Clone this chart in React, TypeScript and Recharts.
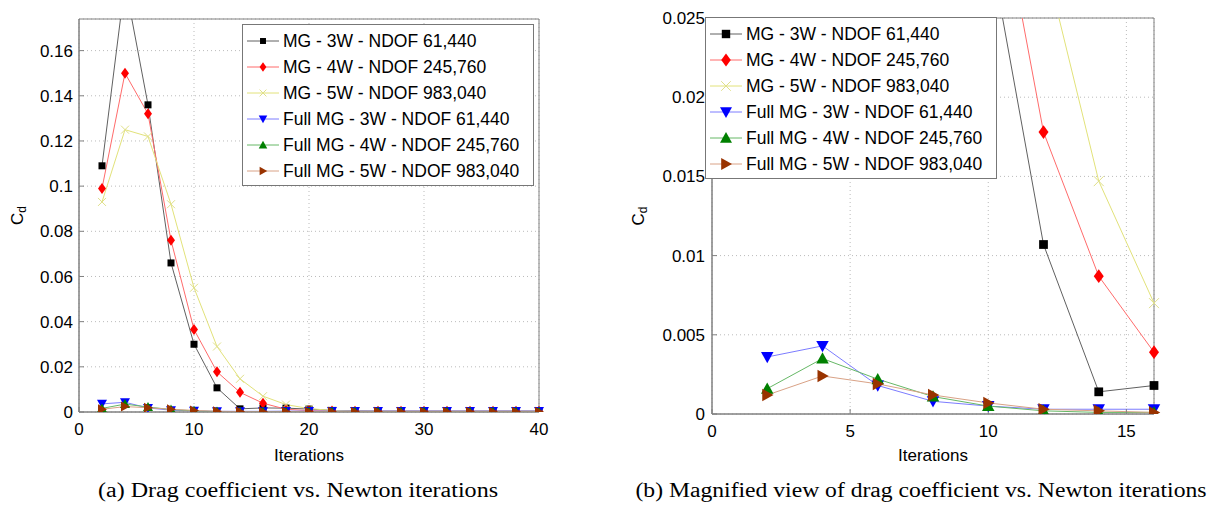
import React from 'react'
import {
  LineChart,
  Line,
  XAxis,
  YAxis,
  CartesianGrid,
  Legend,
  ReferenceArea,
} from 'recharts'

// Newton iterations (x) and drag coefficient per series
const iterations = [2, 4, 6, 8, 10, 12, 14, 16, 18, 20, 22, 24, 26, 28, 30, 32, 34, 36, 38, 40]
const mg3w = [0.109, 0.19, 0.136, 0.066, 0.03, 0.0107, 0.0014, 0.0018, 0.0017, 0.0013, 0.0007, 0.0005, 0.0004, 0.0004, 0.0004, 0.0004, 0.0004, 0.0004, 0.0004, 0.0004]
const mg4w = [0.099, 0.15, 0.132, 0.076, 0.0365, 0.0178, 0.0087, 0.0039, 0.0012, 0.0006, 0.0004, 0.0003, 0.0003, 0.0003, 0.0003, 0.0003, 0.0003, 0.0003, 0.0003, 0.0003]
const mg5w = [0.093, 0.125, 0.122, 0.092, 0.055, 0.029, 0.0147, 0.007, 0.0033, 0.0015, 0.0007, 0.0004, 0.0003, 0.0003, 0.0003, 0.0003, 0.0003, 0.0003, 0.0003, 0.0003]
const fmg3w = [0.0036, 0.0043, 0.0018, 0.0008, 0.0005, 0.0003, 0.0003, 0.0003, 0.0004, 0.0004, 0.0004, 0.0004, 0.0004, 0.0004, 0.0004, 0.0004, 0.0004, 0.0004, 0.0004, 0.0004]
const fmg4w = [0.0016, 0.0035, 0.0022, 0.0011, 0.0005, 0.0002, 0.0001, 0.0001, 0.0001, 0.0001, 0.0001, 0.0001, 0.0001, 0.0001, 0.0001, 0.0001, 0.0001, 0.0001, 0.0001, 0.0001]
const fmg5w = [0.0012, 0.0024, 0.0019, 0.0012, 0.0007, 0.0003, 0.0002, 0.0001, 0.0001, 0.0001, 0.0001, 0.0001, 0.0001, 0.0001, 0.0001, 0.0001, 0.0001, 0.0001, 0.0001, 0.0001]

const leftXTicks = [0, 10, 20, 30, 40]
const leftYTicks = [0, 0.02, 0.04, 0.06, 0.08, 0.1, 0.12, 0.14, 0.16]
const rightXTicks = [0, 5, 10, 15]
const rightYTicks = [0, 0.005, 0.01, 0.015, 0.02, 0.025]

const seriesNames = [
  'MG - 3W - NDOF 61,440',
  'MG - 4W - NDOF 245,760',
  'MG - 5W - NDOF 983,040',
  'Full MG - 3W - NDOF 61,440',
  'Full MG - 4W - NDOF 245,760',
  'Full MG - 5W - NDOF 983,040',
]

const captionA = '(a) Drag coefficient vs. Newton iterations'
const captionB = '(b) Magnified view of drag coefficient vs. Newton iterations'

const rows = iterations.map((it, i) => ({
  it,
  mg3w: mg3w[i],
  mg4w: mg4w[i],
  mg5w: mg5w[i],
  fmg3w: fmg3w[i],
  fmg4w: fmg4w[i],
  fmg5w: fmg5w[i],
}))
const zoomRows = rows.filter((r) => r.it <= 16)

type Shape = 'square' | 'diamond' | 'x' | 'down' | 'up' | 'right'

const series: { key: string; name: string; line: string; marker: string; shape: Shape }[] = [
  { key: 'mg3w', name: seriesNames[0], line: '#606060', marker: '#000000', shape: 'square' },
  { key: 'mg4w', name: seriesNames[1], line: '#ff6b6b', marker: '#ff0000', shape: 'diamond' },
  { key: 'mg5w', name: seriesNames[2], line: '#e2e27a', marker: '#e0e08a', shape: 'x' },
  { key: 'fmg3w', name: seriesNames[3], line: '#7c7cff', marker: '#0000ff', shape: 'down' },
  { key: 'fmg4w', name: seriesNames[4], line: '#66b866', marker: '#008000', shape: 'up' },
  { key: 'fmg5w', name: seriesNames[5], line: '#d9a286', marker: '#993300', shape: 'right' },
]

const FONT = '"Liberation Sans", Arial, sans-serif'

function Marker({ shape, cx, cy, color, k = 1 }: { shape: Shape; cx: number; cy: number; color: string; k?: number }) {
  const s = 3.5 * k
  switch (shape) {
    case 'square':
      return <rect x={cx - s} y={cy - s} width={2 * s} height={2 * s} fill={color} />
    case 'diamond':
      return (
        <polygon
          points={`${cx},${cy - 5.5 * k} ${cx + 4 * k},${cy} ${cx},${cy + 5.5 * k} ${cx - 4 * k},${cy}`}
          fill={color}
        />
      )
    case 'x':
      return (
        <path
          d={`M${cx - 4 * k},${cy - 4 * k}L${cx + 4 * k},${cy + 4 * k}M${cx - 4 * k},${cy + 4 * k}L${cx + 4 * k},${cy - 4 * k}`}
          stroke={color}
          strokeWidth={1}
          fill="none"
        />
      )
    case 'down':
      return <polygon points={`${cx - 5 * k},${cy - 4 * k} ${cx + 5 * k},${cy - 4 * k} ${cx},${cy + 5 * k}`} fill={color} />
    case 'up':
      return <polygon points={`${cx - 5 * k},${cy + 4 * k} ${cx + 5 * k},${cy + 4 * k} ${cx},${cy - 5 * k}`} fill={color} />
    default:
      return <polygon points={`${cx - 4 * k},${cy - 5 * k} ${cx - 4 * k},${cy + 5 * k} ${cx + 5 * k},${cy}`} fill={color} />
  }
}

function LegendBox({ k }: { k: number }) {
  return (
    <div
      style={{
        width: 292,
        height: 162,
        boxSizing: 'border-box',
        border: '1px solid #777',
        background: '#fff',
        paddingTop: 3,
        fontFamily: FONT,
        fontSize: 17.5,
        color: '#000',
      }}
    >
      {series.map((s) => (
        <div key={s.key} style={{ display: 'flex', alignItems: 'center', height: 26, lineHeight: '26px' }}>
          <svg width={40} height={26} style={{ flex: 'none' }}>
            <line x1={4} x2={36} y1={13} y2={13} stroke={s.line} strokeWidth={1} />
            <Marker shape={s.shape} cx={20} cy={13} color={s.marker} k={k} />
          </svg>
          <span style={{ whiteSpace: 'nowrap' }}>{s.name}</span>
        </div>
      ))}
    </div>
  )
}

function CdLabel({ viewBox, left }: any) {
  const y = viewBox.y + viewBox.height / 2
  return (
    <text
      x={left}
      y={y}
      transform={`rotate(-90, ${left}, ${y})`}
      textAnchor="middle"
      dominantBaseline="central"
      fontFamily={FONT}
      fontSize={17}
      fill="#000"
    >
      C
      <tspan fontSize={12} dy={5}>
        d
      </tspan>
    </text>
  )
}

function SeriesLines(k: number) {
  return series.map((s) => (
    <Line
      key={s.key}
      type="linear"
      dataKey={s.key}
      name={s.name}
      stroke={s.line}
      strokeWidth={1}
      isAnimationActive={false}
      activeDot={false}
      dot={(p: any) =>
        p.cx == null || p.cy == null ? (
          <g key={`${s.key}-${p.index}`} />
        ) : (
          <Marker key={`${s.key}-${p.index}`} shape={s.shape} cx={p.cx} cy={p.cy} color={s.marker} k={k} />
        )
      }
    />
  ))
}

const tickStyle = { fontSize: 17, fill: '#000', fontFamily: FONT }

export default function App() {
  return (
    <div style={{ position: 'absolute', left: 0, top: 0, width: 1210, height: 505, background: '#fff' }}>
      <div style={{ position: 'absolute', left: 0, top: 0 }}>
        <LineChart width={560} height={470} data={rows} margin={{ top: 19, right: 21, bottom: 0, left: 0 }} style={{ fontFamily: FONT }}>
          <CartesianGrid strokeDasharray="1 3" stroke="#bbb" />
          <XAxis
            dataKey="it"
            type="number"
            domain={[0, 40]}
            ticks={leftXTicks}
            height={58}
            stroke="#808080"
            tick={tickStyle}
            tickSize={-5}
            tickMargin={16}
            label={{ value: 'Iterations', position: 'insideBottom', offset: 9, fontSize: 17, fill: '#000', fontFamily: FONT }}
          />
          <YAxis
            type="number"
            domain={[0, 0.174]}
            allowDataOverflow
            ticks={leftYTicks}
            width={79}
            stroke="#808080"
            tick={tickStyle}
            tickSize={-5}
            tickMargin={11}
            label={<CdLabel left={17} />}
          />
          <ReferenceArea x1={0} x2={40} y1={0} y2={0.174} fill="none" stroke="#808080" strokeWidth={1} />
          {SeriesLines(1)}
          <Legend
            width={292}
            height={162}
            layout="vertical"
            align="center"
            verticalAlign="middle"
            wrapperStyle={{ left: 242, top: 24 }}
            content={() => <LegendBox k={0.85} />}
          />
        </LineChart>
      </div>
      <div style={{ position: 'absolute', left: 600, top: 0 }}>
        <LineChart width={600} height={470} data={zoomRows} margin={{ top: 18, right: 46, bottom: 0, left: 0 }} style={{ fontFamily: FONT }}>
          <CartesianGrid strokeDasharray="1 3" stroke="#bbb" />
          <XAxis
            dataKey="it"
            type="number"
            domain={[0, 16]}
            ticks={rightXTicks}
            height={56}
            stroke="#808080"
            tick={tickStyle}
            tickSize={-5}
            tickMargin={16}
            label={{ value: 'Iterations', position: 'insideBottom', offset: 9, fontSize: 17, fill: '#000', fontFamily: FONT }}
          />
          <YAxis
            type="number"
            domain={[0, 0.025]}
            allowDataOverflow
            ticks={rightYTicks}
            width={112}
            stroke="#808080"
            tick={tickStyle}
            tickSize={-5}
            tickMargin={12}
            label={<CdLabel left={38} />}
          />
          <ReferenceArea x1={0} x2={16} y1={0} y2={0.025} fill="none" stroke="#808080" strokeWidth={1} />
          {SeriesLines(1.25)}
          <Legend
            width={292}
            height={162}
            layout="vertical"
            align="center"
            verticalAlign="middle"
            wrapperStyle={{ left: 105, top: 17 }}
            content={() => <LegendBox k={1.2} />}
          />
        </LineChart>
      </div>
      <svg width={1210} height={505} style={{ position: 'absolute', left: 0, top: 0, pointerEvents: 'none' }}>
        <text x={298} y={497} textAnchor="middle" fontFamily='"Liberation Serif", serif' fontSize={20} fill="#000" textLength={400} lengthAdjust="spacingAndGlyphs">
          {captionA}
        </text>
        <text x={921} y={497} textAnchor="middle" fontFamily='"Liberation Serif", serif' fontSize={20} fill="#000" textLength={571} lengthAdjust="spacingAndGlyphs">
          {captionB}
        </text>
      </svg>
    </div>
  )
}
